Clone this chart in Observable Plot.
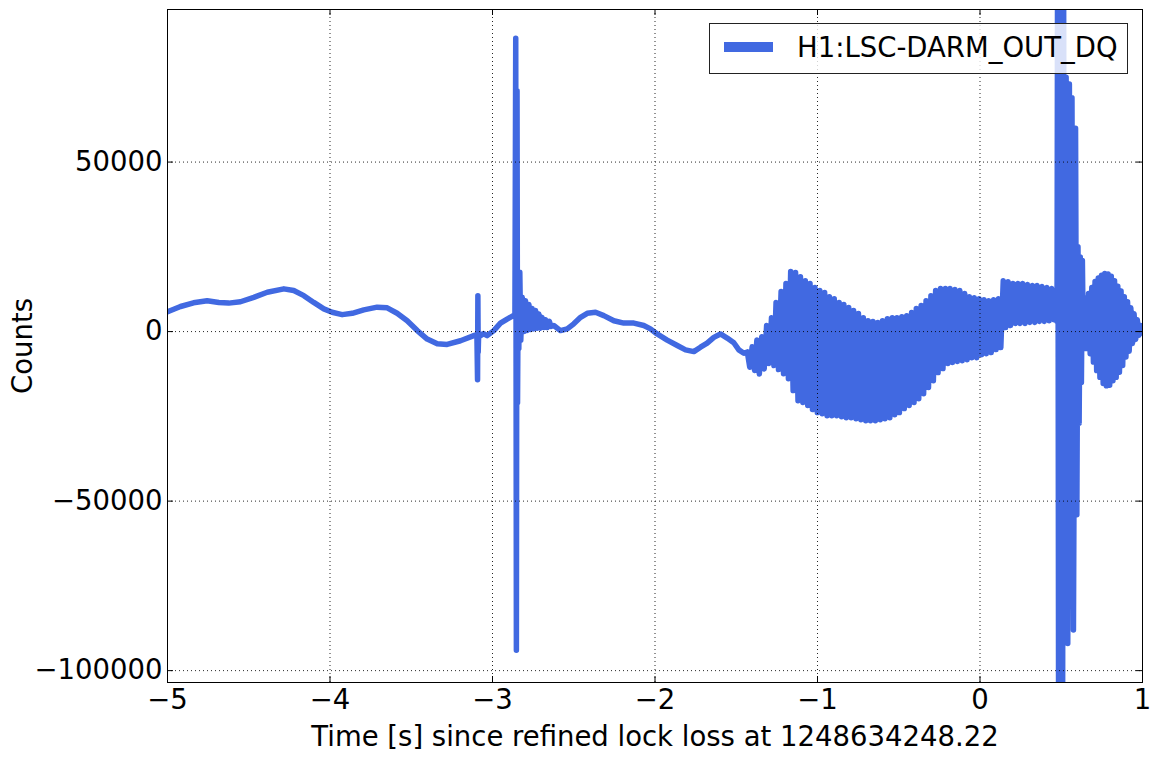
<!DOCTYPE html>
<html>
<head>
<meta charset="utf-8">
<script src="https://cdn.jsdelivr.net/npm/d3@7"></script>
<script src="https://cdn.jsdelivr.net/npm/@observablehq/plot@0.6"></script>
<style>
  html, body { margin: 0; padding: 0; background: #fff; }
  #wrap { position: relative; width: 1159px; height: 759px; font-family: "DejaVu Sans", sans-serif; }
  #legend { position: absolute; left: 709px; top: 23px; width: 417px; height: 49px;
            background: rgba(255,255,255,0.8); border: 1px solid #222; }
  #legend .swatch { position: absolute; left: 14px; top: 18px; width: 49px; height: 10px; background: #4169e1; }
  #legend .lab { position: absolute; left: 87px; top: 9.5px; font-family: "DejaVu Sans"; font-size: 27.5px; line-height: 27.5px; color: #000; white-space: nowrap; }
</style>
</head>
<body>
<div id="wrap"></div>
<script>
// ---- data (time [s], counts) ----
const seriesName = "H1:LSC-DARM_OUT_DQ";
const xLabel = "Time [s] since refined lock loss at 1248634248.22";
const yLabel = "Counts";
const xTicks = [-5, -4, -3, -2, -1, 0, 1];
const yTicks = [-100000, -50000, 0, 50000];

const slowDrift = [
  [-5.000, 5800], [-4.992, 6000], [-4.920, 7400], [-4.840, 8500], [-4.756, 9100],
  [-4.684, 8600], [-4.623, 8400], [-4.551, 8800], [-4.469, 10100], [-4.386, 11600],
  [-4.284, 12600], [-4.223, 12100], [-4.161, 10600], [-4.100, 8600], [-4.038, 6700],
  [-3.987, 5700], [-3.925, 5000], [-3.863, 5400], [-3.792, 6400], [-3.710, 7200],
  [-3.648, 7000], [-3.587, 5400], [-3.525, 3200], [-3.463, 300], [-3.402, -2200],
  [-3.340, -3600], [-3.279, -3800], [-3.197, -2700], [-3.115, -1200], [-3.096, -900]
];

const firstGlitch = [
  [-3.092, -14200], [-3.090, 10600], [-3.088, -6000], [-3.085, -400], [-3.074, -1200],
  [-3.055, -600], [-3.033, -1200], [-2.992, 300], [-2.951, 2500], [-2.910, 3700],
  [-2.880, 4500], [-2.862, 5000]
];

const bigGlitch = [
  [-2.857, 86500], [-2.853, -94000], [-2.849, 71000], [-2.846, -21000], [-2.842, 12000],
  [-2.838, -5000], [-2.832, 17500], [-2.826, -2500], [-2.817, 10100], [-2.807, 0],
  [-2.797, 9100], [-2.787, 300], [-2.776, 8000], [-2.766, 600], [-2.756, 6800],
  [-2.746, 800], [-2.735, 6200], [-2.725, 1000], [-2.715, 5200], [-2.705, 1000],
  [-2.695, 4200], [-2.684, 1200], [-2.674, 3500], [-2.663, 1200], [-2.650, 3000],
  [-2.640, 1500], [-2.623, 1800]
];

const midDrift = [
  [-2.582, 300], [-2.540, 800], [-2.500, 2300], [-2.458, 4200], [-2.417, 5400],
  [-2.366, 5700], [-2.315, 4700], [-2.253, 3200], [-2.192, 2500], [-2.130, 2500],
  [-2.069, 1800], [-2.028, 800], [-1.987, -700], [-1.925, -2500], [-1.863, -4100],
  [-1.812, -5400], [-1.761, -5900], [-1.720, -4600], [-1.679, -3400], [-1.638, -1700],
  [-1.597, -700], [-1.556, -1900], [-1.515, -3300], [-1.484, -5400], [-1.453, -6400]
];

const oscillation = [
  [-1.432, -6000], [-1.417, -10500], [-1.402, -4500], [-1.387, -11500], [-1.373, -2500],
  [-1.358, -12500], [-1.343, -1500], [-1.328, -11000], [-1.313, 1800], [-1.298, -9400],
  [-1.283, 4100], [-1.268, -10000], [-1.255, 8600], [-1.240, -11200], [-1.224, 11800],
  [-1.209, -12400], [-1.194, 14200], [-1.179, -13900], [-1.165, 17700], [-1.150, -17400],
  [-1.135, 17400], [-1.120, -20400], [-1.105, 16200], [-1.090, -20900], [-1.075, 15000],
  [-1.060, -21800], [-1.046, 14200], [-1.031, -23000], [-1.016, 13000], [-1.001, -23900],
  [-0.986, 12100], [-0.971, -24200], [-0.956, 11500], [-0.941, -24800], [-0.927, 10300],
  [-0.912, -24800], [-0.897, 9700], [-0.882, -24800], [-0.867, 8600], [-0.852, -25100],
  [-0.838, 8000], [-0.823, -25400], [-0.808, 7100], [-0.793, -25400], [-0.778, 6200],
  [-0.763, -25700], [-0.748, 5300], [-0.733, -26000], [-0.718, 4100], [-0.703, -26300],
  [-0.689, 3200], [-0.674, -26300], [-0.659, 3000], [-0.644, -26300], [-0.629, 2700],
  [-0.614, -26000], [-0.600, 3200], [-0.585, -25700], [-0.570, 3800], [-0.555, -25400],
  [-0.540, 4100], [-0.525, -24500], [-0.511, 4100], [-0.496, -23900], [-0.481, 4400],
  [-0.466, -22700], [-0.451, 4700], [-0.436, -21800], [-0.421, 5600], [-0.406, -20900],
  [-0.392, 6800], [-0.377, -19800], [-0.362, 7700], [-0.347, -18300], [-0.332, 9100],
  [-0.317, -16500], [-0.302, 10600], [-0.287, -14500], [-0.273, 12100], [-0.258, -12100],
  [-0.243, 12700], [-0.228, -10900], [-0.213, 12700], [-0.198, -9400], [-0.184, 12700],
  [-0.169, -9100], [-0.154, 12400], [-0.139, -8800], [-0.124, 12100], [-0.109, -8600],
  [-0.094, 11200], [-0.079, -8300], [-0.065, 10300], [-0.050, -7700], [-0.035, 10000],
  [-0.020, -7700], [-0.005, 9700], [0.010, -6800], [0.025, 9400], [0.039, -6500],
  [0.054, 9100], [0.069, -6200], [0.084, 9400], [0.099, -5300], [0.114, 9700],
  [0.128, -4700], [0.143, 15000], [0.158, 1200], [0.173, 14700], [0.188, 1800],
  [0.203, 14200], [0.218, 2400], [0.233, 14200], [0.247, 2400], [0.262, 14200],
  [0.277, 2400], [0.292, 13900], [0.307, 2700], [0.322, 13600], [0.337, 2700],
  [0.351, 13600], [0.366, 3000], [0.381, 13300], [0.396, 3000], [0.411, 13000],
  [0.426, 3200], [0.441, 12700], [0.456, 3500], [0.470, 11500]
];

const lockLossBurst = [
  [0.474, 3000], [0.478, 130000], [0.484, -130000], [0.490, 130000], [0.496, -130000],
  [0.502, 130000], [0.508, -130000], [0.514, 120000], [0.521, -91000], [0.530, 75000],
  [0.540, -92000], [0.550, 73000], [0.558, -44000], [0.566, 69000], [0.575, -88000],
  [0.588, 60000], [0.596, -54000], [0.603, 25000], [0.610, -27000], [0.617, 22000],
  [0.624, -15000], [0.630, 21000], [0.636, -4000], [0.642, 10000], [0.648, -5000],
  [0.654, 9000], [0.660, -5000]
];

const finalLobe = [
  [0.668, 11200], [0.678, -6500], [0.688, 13000], [0.698, -9000], [0.708, 14800],
  [0.718, -11500], [0.728, 15800], [0.738, -13500], [0.748, 16600], [0.758, -15300],
  [0.768, 17100], [0.778, -16000], [0.788, 17000], [0.798, -15800], [0.808, 16300],
  [0.818, -14500], [0.828, 15000], [0.838, -13500], [0.848, 13400], [0.858, -12000],
  [0.868, 12000], [0.878, -10000], [0.888, 10300], [0.898, -7500], [0.908, 8800],
  [0.918, -5800], [0.928, 7000], [0.938, -3500], [0.948, 5300], [0.958, -2300],
  [0.968, 3500], [0.978, -1100], [0.988, 1800], [0.998, -400], [1.000, 0]
];

// ---- build table ----
const series = [slowDrift, firstGlitch, bigGlitch, midDrift, oscillation, lockLossBurst, finalLobe]
  .flat()
  .map(([t, v]) => ({t, v}));

const lineColor = "#4169e1";
const fmt = d => d < 0 ? "\u2212" + Math.abs(d) : String(d);

const W = 1159, H = 759, ML = 167, MR = 17, MT = 9, MB = 77;
const frameW = W - ML - MR, frameH = H - MT - MB, tick = 6;
const gridStyle = {stroke: "#000", strokeOpacity: 0.85, strokeWidth: 1, strokeDasharray: "1,3"};

const chart = Plot.plot({
  width: W, height: H,
  marginLeft: ML, marginRight: MR, marginTop: MT, marginBottom: MB,
  style: {fontFamily: "DejaVu Sans", fontSize: "27.5px", color: "#000", background: "#fff", overflow: "visible"},
  x: {domain: [-5, 1]},
  y: {domain: [-103500, 95000]},
  marks: [
    Plot.line(series, {x: "t", y: "v", stroke: lineColor, strokeWidth: 5.5, strokeLinejoin: "round", clip: true}),
    Plot.gridX(xTicks, gridStyle),
    Plot.gridY(yTicks, gridStyle),
    Plot.frame({stroke: "#000", strokeWidth: 1}),
    Plot.ruleX(xTicks, {insetTop: frameH - tick, stroke: "#000"}),
    Plot.ruleX(xTicks, {insetBottom: frameH - tick, stroke: "#000"}),
    Plot.ruleY(yTicks, {insetRight: frameW - tick, stroke: "#000"}),
    Plot.ruleY(yTicks, {insetLeft: frameW - tick, stroke: "#000"}),
    Plot.axisX(xTicks, {tickSize: 0, tickPadding: 7, tickFormat: fmt, label: xLabel, labelAnchor: "center", labelArrow: "none", labelOffset: 63}),
    Plot.axisY(yTicks, {tickSize: 0, tickPadding: 5, tickFormat: fmt, label: yLabel, labelAnchor: "center", labelArrow: "none", labelOffset: 155})
  ]
});

const wrap = document.getElementById("wrap");
wrap.appendChild(chart);
const legend = document.createElement("div");
legend.id = "legend";
legend.innerHTML = `<div class="swatch"></div><div class="lab"></div>`;
legend.querySelector(".lab").textContent = seriesName;
legend.querySelector(".swatch").style.background = lineColor;
wrap.appendChild(legend);
</script>
</body>
</html>
